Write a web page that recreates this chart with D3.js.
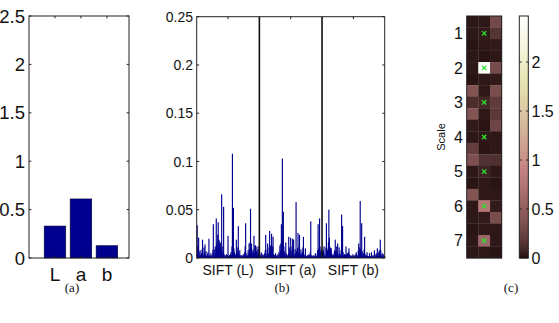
<!DOCTYPE html>
<html><head><meta charset="utf-8">
<script src="https://cdn.jsdelivr.net/npm/d3@7"></script>
<style>body{margin:0;background:#fff}svg{display:block}text{font-family:"Liberation Sans",Arial,sans-serif;fill:#111}</style>
</head><body><svg id="c" width="559" height="323"></svg>
<script>
// ---- Panel (a): Lab bars
const labCats = ["L","a","b"];
const labVals = [0.33, 0.61, 0.127];
const labTicks = [0,0.5,1,1.5,2,2.5];
const labTickLabels = ["0","0.5","1","1.5","2","2.5"];

// ---- Panel (b): SIFT descriptors (128 bins each)
const siftL = [0.034,0.012,0.004,0.021,0.006,0.002,0.008,0.003,0.001,0.005,0.009,0.019,0.004,0.002,0.011,0.006,0.014,0.003,0.007,0.002,0.001,0.004,0.006,0.002,0.020,0.003,0.001,0.002,0.005,0.001,0.003,0.002,0.008,0.035,0.004,0.002,0.009,0.012,0.006,0.041,0.015,0.011,0.024,0.037,0.019,0.018,0.014,0.010,0.016,0.008,0.066,0.012,0.006,0.003,0.053,0.004,0.002,0.003,0.001,0.002,0.004,0.002,0.003,0.023,0.002,0.001,0.003,0.002,0.004,0.006,0.003,0.012,0.108,0.015,0.052,0.010,0.006,0.003,0.002,0.004,0.019,0.003,0.006,0.011,0.033,0.004,0.002,0.008,0.003,0.001,0.002,0.003,0.001,0.002,0.004,0.002,0.003,0.006,0.012,0.036,0.005,0.002,0.001,0.003,0.008,0.004,0.015,0.009,0.016,0.051,0.011,0.015,0.007,0.004,0.009,0.006,0.023,0.005,0.013,0.013,0.004,0.007,0.012,0.003,0.009,0.005,0.012,0.004];
const siftA = [0.004,0.002,0.003,0.006,0.001,0.002,0.004,0.001,0.003,0.002,0.005,0.008,0.024,0.004,0.002,0.009,0.015,0.005,0.003,0.011,0.028,0.006,0.013,0.010,0.025,0.007,0.012,0.022,0.004,0.002,0.003,0.001,0.005,0.002,0.001,0.003,0.002,0.004,0.001,0.006,0.003,0.013,0.008,0.015,0.035,0.018,0.103,0.022,0.048,0.012,0.007,0.004,0.003,0.016,0.005,0.002,0.003,0.001,0.004,0.022,0.006,0.011,0.004,0.021,0.008,0.003,0.012,0.020,0.006,0.019,0.004,0.002,0.009,0.005,0.058,0.007,0.003,0.010,0.026,0.005,0.012,0.024,0.006,0.003,0.009,0.004,0.002,0.006,0.011,0.022,0.004,0.002,0.003,0.010,0.002,0.001,0.002,0.003,0.001,0.002,0.004,0.001,0.003,0.006,0.038,0.003,0.001,0.002,0.001,0.003,0.002,0.001,0.002,0.004,0.005,0.002,0.001,0.003,0.008,0.035,0.010,0.006,0.041,0.012,0.007,0.004,0.009,0.005];
const siftB = [0.006,0.003,0.008,0.012,0.002,0.004,0.001,0.011,0.036,0.010,0.008,0.004,0.016,0.050,0.021,0.009,0.011,0.005,0.010,0.003,0.002,0.004,0.001,0.003,0.006,0.008,0.019,0.007,0.004,0.012,0.006,0.015,0.004,0.002,0.011,0.005,0.002,0.003,0.008,0.045,0.012,0.033,0.006,0.003,0.002,0.004,0.001,0.003,0.012,0.004,0.002,0.005,0.003,0.006,0.010,0.004,0.002,0.001,0.003,0.002,0.001,0.002,0.004,0.001,0.002,0.001,0.003,0.002,0.004,0.006,0.002,0.001,0.003,0.008,0.015,0.006,0.011,0.059,0.009,0.004,0.036,0.007,0.003,0.002,0.005,0.009,0.022,0.004,0.002,0.001,0.003,0.006,0.002,0.001,0.002,0.001,0.005,0.002,0.001,0.002,0.006,0.003,0.001,0.002,0.001,0.003,0.008,0.002,0.001,0.004,0.002,0.005,0.010,0.003,0.002,0.006,0.008,0.004,0.019,0.008,0.003,0.002,0.005,0.001,0.002,0.004,0.001,0.002];
const siftLabels = ["SIFT (L)","SIFT (a)","SIFT (b)"];
const siftTicks = [0,0.05,0.1,0.15,0.2,0.25];

// ---- Panel (c): scale heatmap (21 rows x 3 cols)
const heat = [
 [0.03,0.03,0.30],[0.03,0.04,0.16],[0.02,0.03,0.04],[0.03,0.02,0.03],
 [0.03,2.45,0.32],[0.02,0.03,0.04],[0.40,0.03,0.34],[0.12,0.09,0.20],
 [0.40,0.03,0.18],[0.04,0.02,0.27],[0.03,0.03,0.03],[0.22,0.02,0.03],
 [0.36,0.14,0.13],[0.03,0.07,0.03],[0.02,0.03,0.02],[0.40,0.03,0.03],
 [0.03,0.80,0.04],[0.03,0.04,0.34],[0.02,0.03,0.03],[0.03,0.58,0.03],
 [0.03,0.03,0.02]];
const scaleLabels = ["1","2","3","4","5","6","7"];
const cbTicks = [0,0.5,1,1.5,2];
const cbTickLabels = ["0","0.5","1","1.5","2"];
const cbMax = 2.47;
const captions = ["(a)","(b)","(c)"];

const svg = d3.select("#c");
const axisCol = "#222";
const barCol = "#00008f";

function box(g, x0, y0, x1, y1){
  g.append("rect").attr("x",x0).attr("y",y0).attr("width",x1-x0).attr("height",y1-y0)
   .attr("fill","none").attr("stroke",axisCol).attr("stroke-width",1);
}

// ===== Panel a =====
{
  const g = svg.append("g");
  const x = d3.scaleLinear().domain([0,3.85]).range([29,129]);
  const y = d3.scaleLinear().domain([0,2.5]).range([258,16]);
  const bw = x(0.83)-x(0);
  g.selectAll("rect.bar").data(labVals).join("rect")
    .attr("x",(d,i)=>x(i+1)-bw/2).attr("width",bw)
    .attr("y",d=>y(d)).attr("height",d=>y(0)-y(d))
    .attr("fill",barCol).attr("stroke","#000033").attr("stroke-width",0.6);
  box(g,29,16,129,258);
  const tl = 2.4;
  labTicks.forEach((t,i)=>{
    g.append("line").attr("x1",29).attr("x2",29+tl).attr("y1",y(t)).attr("y2",y(t)).attr("stroke",axisCol);
    g.append("line").attr("x1",129).attr("x2",129-tl).attr("y1",y(t)).attr("y2",y(t)).attr("stroke",axisCol);
    g.append("text").attr("x",25).attr("y",y(t)).attr("dy","0.36em").attr("text-anchor","end")
      .attr("font-size",18.5).text(labTickLabels[i]);
  });
  labCats.forEach((c,i)=>{
    g.append("line").attr("x1",x(i+1)).attr("x2",x(i+1)).attr("y1",258).attr("y2",258-tl).attr("stroke",axisCol);
    g.append("line").attr("x1",x(i+1)).attr("x2",x(i+1)).attr("y1",16).attr("y2",16+tl).attr("stroke",axisCol);
    g.append("text").attr("x",x(i+1)).attr("y",281).attr("text-anchor","middle").attr("font-size",19).text(c);
  });
}

// ===== Panel b =====
{
  const g = svg.append("g");
  const all = siftL.concat(siftA, siftB);
  const x = d3.scaleLinear().domain([0,384]).range([196.7,384.7]);
  const y = d3.scaleLinear().domain([0,0.25]).range([258,16.7]);
  g.selectAll("rect.bar").data(all).join("rect")
    .attr("x",(d,i)=>x(i)-0.1).attr("width",1.15)
    .attr("y",d=>y(d)).attr("height",d=>y(0)-y(d))
    .attr("fill",barCol);
  [128,256].forEach(s=>{
    g.append("line").attr("x1",x(s)).attr("x2",x(s)).attr("y1",16.7).attr("y2",258)
     .attr("stroke","#111").attr("stroke-width",1.6);
  });
  box(g,196.7,16.7,384.7,258);
  const tl = 2.4;
  siftTicks.forEach(t=>{
    g.append("line").attr("x1",196.7).attr("x2",196.7+tl).attr("y1",y(t)).attr("y2",y(t)).attr("stroke",axisCol);
    g.append("line").attr("x1",384.7).attr("x2",384.7-tl).attr("y1",y(t)).attr("y2",y(t)).attr("stroke",axisCol);
    g.append("text").attr("x",193).attr("y",y(t)).attr("dy","0.36em").attr("text-anchor","end")
      .attr("font-size",14).text(d3.format("")(t));
  });
  siftLabels.forEach((l,i)=>{
    const cx = x(64+128*i);
    g.append("line").attr("x1",cx).attr("x2",cx).attr("y1",16.7).attr("y2",16.7+tl).attr("stroke",axisCol);
    g.append("line").attr("x1",cx).attr("x2",cx).attr("y1",258).attr("y2",258-tl).attr("stroke",axisCol);
    g.append("text").attr("x",cx).attr("y",275).attr("text-anchor","middle").attr("font-size",14).text(l);
  });
}

// ===== Panel c =====
function pink(v){
  const t = Math.max(0, Math.min(1, v/cbMax));
  const hr = Math.min(1, (t + 1/64)/(3/8));
  const hg = Math.max(0, Math.min(1, (t-3/8)/(3/8)));
  const hb = Math.max(0, Math.min(1, (t-6/8)/(2/8)));
  const r = Math.sqrt((2*t+hr)/3), gg = Math.sqrt((2*t+hg)/3), b = Math.sqrt((2*t+hb)/3);
  return d3.rgb(r*255, gg*255, b*255).toString();
}
{
  const g = svg.append("g");
  const x = d3.scaleBand().domain([0,1,2]).range([466.7,501.7]);
  const y = d3.scaleBand().domain(d3.range(21)).range([16,258]);
  heat.forEach((row,ri)=>row.forEach((v,ci)=>{
    g.append("rect").attr("x",x(ci)).attr("y",y(ri)).attr("width",x.bandwidth()+0.3).attr("height",y.bandwidth()+0.3)
     .attr("fill",pink(v));
  }));
  box(g,466.7,16,501.7,258);
  scaleLabels.forEach((s,i)=>{
    const ri = 1+3*i;
    const cx = x(1)+x.bandwidth()/2, cy = y(ri)+y.bandwidth()/2, r=2.2;
    g.append("path").attr("d",`M${cx-r},${cy-r}L${cx+r},${cy+r}M${cx-r},${cy+r}L${cx+r},${cy-r}`)
     .attr("stroke","#2ee02e").attr("stroke-width",1.3);
    g.append("text").attr("x",463).attr("y",cy).attr("dy","0.36em").attr("text-anchor","end")
     .attr("font-size",16).text(s);
  });
  g.append("text").attr("transform","translate(445,137) rotate(-90)").attr("text-anchor","middle")
   .attr("font-size",11).text("Scale");

  const cy = d3.scaleLinear().domain([0,cbMax]).range([258,16]);
  const steps = d3.range(0,cbMax,cbMax/120);
  g.selectAll("rect.cb").data(steps).join("rect")
   .attr("x",519.3).attr("width",9).attr("y",d=>cy(d+cbMax/120)).attr("height",d=>cy(d)-cy(d+cbMax/120)+0.5)
   .attr("fill",d=>pink(d+cbMax/240));
  box(g,519.3,16,528.3,258);
  cbTicks.forEach((t,i)=>{
    if(t>0){
      g.append("line").attr("x1",519.3).attr("x2",521.5).attr("y1",cy(t)).attr("y2",cy(t)).attr("stroke",axisCol);
      g.append("line").attr("x1",528.3).attr("x2",526.1).attr("y1",cy(t)).attr("y2",cy(t)).attr("stroke",axisCol);
    }
    g.append("text").attr("x",531.5).attr("y",cy(t)).attr("dy","0.36em").attr("font-size",16).text(cbTickLabels[i]);
  });
}

// captions
[72,282,511].forEach((cx,i)=>{
  svg.append("text").attr("x",cx).attr("y",292).attr("text-anchor","middle")
   .style("font-family","'Liberation Serif','DejaVu Serif',serif").attr("font-size",13).text(captions[i]);
});
</script></body></html>
